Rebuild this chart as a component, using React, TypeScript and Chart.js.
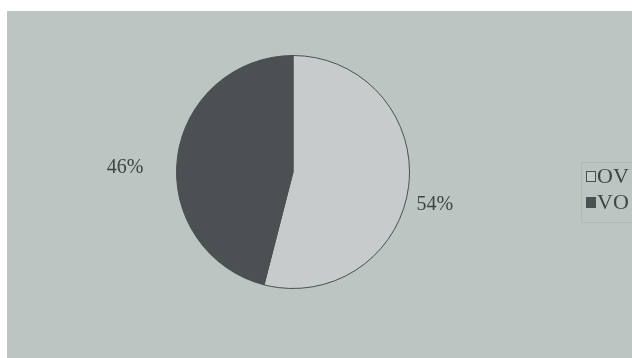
import React, { useEffect, useRef } from "react";
import { Chart, registerables } from "chart.js";

Chart.register(...registerables);

// Share of each group, in percent
const categories = ["OV", "VO"];
const shares = [54, 46];
const sliceColors = ["#c6cccb", "#4b5152"];

const PAGE_BG = "#bdc5c3";
const INK = "#3e4343";
const SERIF = "'Liberation Serif', 'DejaVu Serif', serif";

// Paper background: white margin on top and left, grey sheet elsewhere
const pageBackground = {
  id: "pageBackground",
  beforeDraw(chart: any) {
    const { ctx, width, height } = chart;
    ctx.save();
    ctx.fillStyle = "#ffffff";
    ctx.fillRect(0, 0, width, height);
    ctx.fillStyle = PAGE_BG;
    ctx.fillRect(7, 11, width - 7, height - 11);
    ctx.restore();
  },
};

// Percent labels placed just outside each slice
const outsideLabels = {
  id: "outsideLabels",
  afterDatasetsDraw(chart: any) {
    const { ctx } = chart;
    const meta = chart.getDatasetMeta(0);
    const values: number[] = chart.data.datasets[0].data;
    ctx.save();
    ctx.font = `20px ${SERIF}`;
    ctx.fillStyle = INK;
    ctx.textBaseline = "middle";
    meta.data.forEach((arc: any, i: number) => {
      const { x, y, startAngle, endAngle, outerRadius } = arc.getProps(
        ["x", "y", "startAngle", "endAngle", "outerRadius"],
        true
      );
      const mid = (startAngle + endAngle) / 2;
      const cos = Math.cos(mid);
      const sin = Math.sin(mid);
      const right = cos >= 0;
      const gap = right ? 8 : 34;
      const ex = x + cos * outerRadius + (right ? gap : -gap);
      const ey = y + sin * outerRadius + (right ? 18 : 10);
      ctx.textAlign = right ? "left" : "right";
      ctx.fillText(`${values[i]}%`, ex, ey);
    });
    ctx.restore();
  },
};

// Boxed legend at the right edge
const sideLegend = {
  id: "sideLegend",
  afterDraw(chart: any) {
    const { ctx, width } = chart;
    const labels: string[] = chart.data.labels;
    const colors: string[] = chart.data.datasets[0].backgroundColor;
    const left = 581;
    const top = 162;
    const rowH = 26;
    ctx.save();
    ctx.strokeStyle = "#b1b9b7";
    ctx.lineWidth = 1;
    ctx.strokeRect(left + 0.5, top + 0.5, width, rowH * labels.length + 8);
    ctx.font = `22px ${SERIF}`;
    ctx.textAlign = "left";
    ctx.textBaseline = "middle";
    labels.forEach((lab, i) => {
      const cy = top + 14 + i * rowH;
      ctx.fillStyle = colors[i];
      ctx.fillRect(586, cy - 5, 10, 11);
      ctx.strokeStyle = "#4a4f50";
      ctx.strokeRect(586.5, cy - 4.5, 9, 10);
      ctx.fillStyle = INK;
      ctx.fillText(lab, 597, cy + 1);
    });
    ctx.restore();
  },
};

export default function App() {
  const canvasRef = useRef<HTMLCanvasElement | null>(null);

  useEffect(() => {
    if (!canvasRef.current) return;
    const chart = new Chart(canvasRef.current, {
      type: "pie",
      data: {
        labels: categories,
        datasets: [
          {
            data: shares,
            backgroundColor: sliceColors,
            borderColor: "#4a5050",
            borderWidth: 1,
          },
        ],
      },
      options: {
        responsive: false,
        animation: false,
        events: [],
        layout: { padding: { left: 176, right: 222, top: 55, bottom: 69 } },
        plugins: {
          legend: { display: false },
          tooltip: { enabled: false },
          title: { display: false },
        },
      },
      plugins: [pageBackground, outsideLabels, sideLegend],
    });
    return () => chart.destroy();
  }, []);

  return (
    <div
      style={{
        position: "fixed",
        left: 0,
        top: 0,
        width: 632,
        height: 358,
        background: "#ffffff",
      }}
    >
      <canvas ref={canvasRef} width={632} height={358} style={{ display: "block" }} />
    </div>
  );
}
